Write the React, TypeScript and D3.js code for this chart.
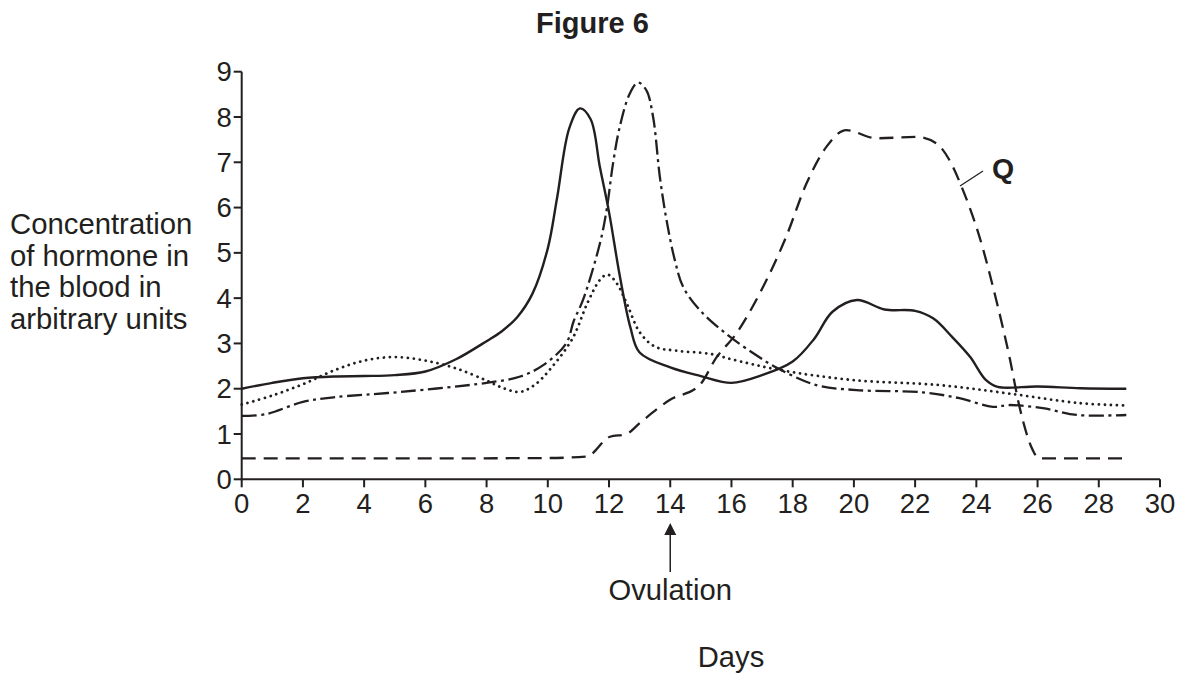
import React from "react";
import * as d3 from "d3";

// ---- data (day, concentration) ----
const solidHormone: [number, number][] = [
  [0, 2.0], [1, 2.13], [2, 2.23], [3, 2.27], [4, 2.28], [5, 2.3], [6, 2.38], [7, 2.65],
  [8, 3.05], [8.5, 3.27], [9, 3.58], [9.5, 4.1], [10, 5.1], [10.3, 6.2], [10.7, 7.75], [11.05, 8.19],
  [11.4, 7.95], [11.7, 6.9], [12.0, 5.9], [12.35, 4.5], [12.7, 3.35], [13.0, 2.8],
  [14, 2.47], [15, 2.28], [16, 2.13], [17, 2.3], [18, 2.6], [18.7, 3.1], [19.3, 3.7],
  [20.1, 3.96], [21, 3.75], [22, 3.72], [22.6, 3.55], [23.2, 3.15], [23.8, 2.7],
  [24.3, 2.2], [24.7, 2.04], [26, 2.05], [27.4, 2.01], [28.9, 2.0],
];
const dottedHormone: [number, number][] = [
  [0, 1.65], [1, 1.85], [2, 2.1], [3, 2.4], [4, 2.62], [5, 2.7], [6, 2.62], [7, 2.45],
  [8, 2.18], [8.6, 2.0], [9.1, 1.93], [9.6, 2.1], [10.1, 2.45], [10.8, 3.1], [11.3, 3.9],
  [11.7, 4.4], [11.95, 4.52], [12.25, 4.33], [12.6, 3.85], [13.0, 3.25], [13.5, 2.93],
  [14.2, 2.84], [15.3, 2.77], [16, 2.65], [17.6, 2.41], [20, 2.19], [22.8, 2.08],
  [25, 1.9], [27.4, 1.68], [28.9, 1.63],
];
const dashDotHormone: [number, number][] = [
  [0, 1.4], [0.8, 1.44], [2, 1.71], [3, 1.81], [5.2, 1.93], [8, 2.13], [9.1, 2.27],
  [9.85, 2.52], [10.6, 3.0], [10.85, 3.5], [11.15, 3.96], [11.7, 5.2], [11.92, 5.94],
  [12.13, 6.97], [12.35, 7.78], [12.68, 8.52], [12.95, 8.76], [13.22, 8.59], [13.44, 8.0],
  [13.66, 6.68], [13.88, 5.72], [14.15, 4.84], [14.42, 4.25], [14.96, 3.74], [15.85, 3.2],
  [16.9, 2.7], [17.4, 2.49], [18.77, 2.08], [20.08, 1.97], [22.25, 1.92], [23.45, 1.79],
  [24.54, 1.6], [25.08, 1.64], [26.17, 1.57], [27.3, 1.42], [28.9, 1.42],
];
const dashedHormoneQ: [number, number][] = [
  [0, 0.46], [5, 0.46], [10, 0.47], [11.26, 0.5], [12.03, 0.94], [12.57, 1.0], [13.0, 1.24],
  [13.98, 1.75], [14.96, 2.08], [15.5, 2.68], [16.16, 3.22], [16.92, 4.1], [17.79, 5.36],
  [18.45, 6.53], [19.1, 7.34], [19.75, 7.71], [20.73, 7.53], [22.04, 7.56], [22.69, 7.42],
  [23.12, 7.05], [23.56, 6.39], [24.1, 5.36], [24.65, 3.96], [25.08, 2.71], [25.41, 1.6],
  [25.84, 0.65], [26.04, 0.46], [28.9, 0.46],
];

const xTicks = d3.range(0, 31, 2);
const yTicks = d3.range(0, 10, 1);
const yLabelLines = ["Concentration", "of hormone in", "the blood in", "arbitrary units"];
const titleText = "Figure 6";
const xLabelText = "Days";
const ovulationText = "Ovulation";
const ovulationDay = 14;
const seriesLabel = "Q";

const FONT = "'Liberation Sans', Arial, Helvetica, sans-serif";

export default function App() {
  const x = d3.scaleLinear().domain([0, 30]).range([241.7, 1160]);
  const y = d3.scaleLinear().domain([0, 9]).range([479.3, 71.7]);
  const smooth = d3
    .line<[number, number]>()
    .x((d) => x(d[0]))
    .y((d) => y(d[1]))
    .curve(d3.curveCatmullRom.alpha(0.5));
  const mono = d3
    .line<[number, number]>()
    .x((d) => x(d[0]))
    .y((d) => y(d[1]))
    .curve(d3.curveMonotoneX);

  const x0 = x(0);
  const y0 = y(0);
  const ox = x(ovulationDay);

  return (
    <svg
      width={1184}
      height={675}
      viewBox="0 0 1184 675"
      style={{ position: "absolute", left: 0, top: 0, background: "#fff" }}
      fontFamily={FONT}
    >
      <rect x={0} y={0} width={1184} height={675} fill="#fff" />
      <text x={592.5} y={33} textAnchor="middle" fontSize={29} fontWeight="bold" fill="#231f20">
        {titleText}
      </text>

      {/* y label */}
      {yLabelLines.map((t, i) => (
        <text key={t} x={10} y={234 + i * 31.6} fontSize={29.3} fill="#231f20">
          {t}
        </text>
      ))}

      {/* series */}
      <g fill="none" stroke="#231f20">
        <path d={mono(dashedHormoneQ) || ""} strokeWidth={2.3} strokeDasharray="14 8" />
        <path d={smooth(dottedHormone) || ""} strokeWidth={2.8} strokeDasharray="0.01 6" strokeLinecap="round" />
        <path d={smooth(dashDotHormone) || ""} strokeWidth={2.3} strokeDasharray="15 4.5 3 4.5" />
        <path d={smooth(solidHormone) || ""} strokeWidth={2.4} />
      </g>

      {/* axes */}
      <g stroke="#231f20" strokeWidth={2}>
        <line x1={x0} x2={x(30)} y1={y0} y2={y0} />
        <line x1={x0} x2={x0} y1={y0 + 1} y2={y(9)} />
        {xTicks.map((t) => (
          <line key={"xt" + t} x1={x(t)} x2={x(t)} y1={y0} y2={y0 + 8} />
        ))}
        {yTicks.map((t) => (
          <line key={"yt" + t} x1={x0 - 8} x2={x0} y1={y(t)} y2={y(t)} />
        ))}
      </g>
      <g fontSize={27.5} fill="#231f20">
        {xTicks.map((t) => (
          <text key={"xl" + t} x={x(t)} y={513} textAnchor="middle">
            {t}
          </text>
        ))}
        {yTicks.map((t) => (
          <text key={"yl" + t} x={x0 - 10} y={y(t)} dy="0.35em" textAnchor="end">
            {t}
          </text>
        ))}
      </g>

      {/* Q label */}
      <line x1={983} y1={171} x2={960} y2={186} stroke="#231f20" strokeWidth={1.3} />
      <text x={992} y={178} fontSize={28.5} fontWeight="bold" fill="#231f20">
        {seriesLabel}
      </text>

      {/* ovulation arrow */}
      <line x1={ox} x2={ox} y1={534} y2={572} stroke="#231f20" strokeWidth={1.5} />
      <path d={`M${ox},523 L${ox - 6},535 L${ox + 6},535 Z`} fill="#231f20" />
      <text x={ox} y={600} textAnchor="middle" fontSize={29.2} fill="#231f20">
        {ovulationText}
      </text>
      <text x={731} y={667} textAnchor="middle" fontSize={29.2} fill="#231f20">
        {xLabelText}
      </text>
    </svg>
  );
}
